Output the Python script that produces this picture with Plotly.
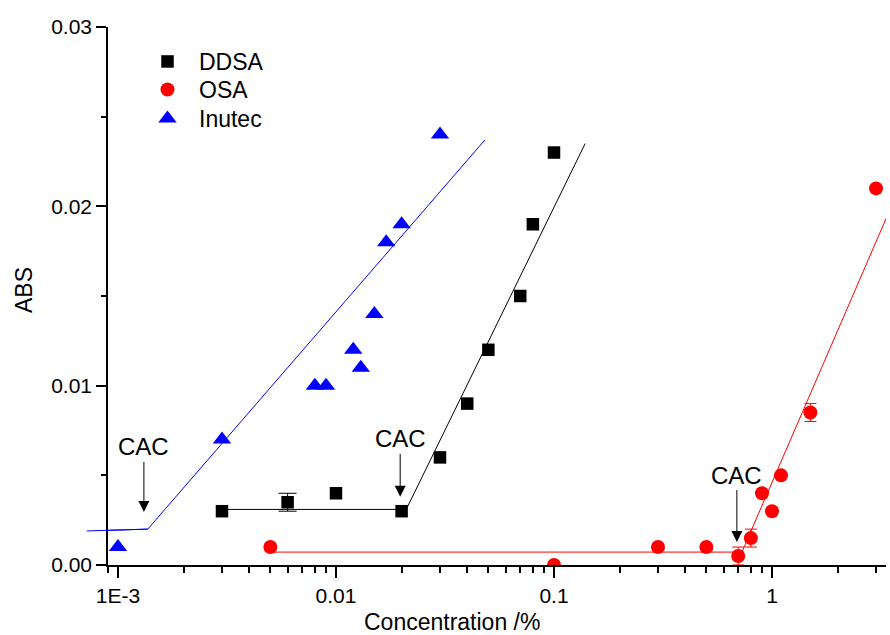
import math
import plotly.graph_objects as go

# ---- data ----
ddsa_x = [0.003, 0.006, 0.01, 0.02, 0.03, 0.04, 0.05, 0.07, 0.08, 0.1]
ddsa_y = [0.003, 0.0035, 0.004, 0.003, 0.006, 0.009, 0.012, 0.015, 0.019, 0.023]
ddsa_err = [0, 0.0005, 0, 0, 0, 0, 0, 0, 0, 0]

osa_x = [0.005, 0.1, 0.3, 0.5, 0.7, 0.8, 0.9, 1.0, 1.1, 1.5, 3.0]
osa_y = [0.001, 0.0, 0.001, 0.001, 0.0005, 0.0015, 0.004, 0.003, 0.005, 0.0085, 0.021]
osa_err = [0, 0, 0, 0, 0.0005, 0.0005, 0, 0, 0, 0.0005, 0]

inu_x = [0.001, 0.003, 0.008, 0.009, 0.012, 0.013, 0.015, 0.017, 0.02, 0.03]
inu_y = [0.001, 0.007, 0.010, 0.010, 0.012, 0.011, 0.014, 0.018, 0.019, 0.024]

# fitted lines (break points)
ddsa_fit_x = [0.003, 0.021, 0.139]
ddsa_fit_y = [0.0031, 0.0031, 0.0235]
osa_fit_x = [0.005, 0.728, 3.47]
osa_fit_y = [0.00072, 0.00072, 0.0198]
inu_fit_x = [0.00072, 0.00137, 0.0482]
inu_fit_y = [0.0019, 0.0020, 0.0237]

# CAC arrows (tip positions)
cac_x = [0.001315, 0.0197, 0.69]
cac_y = [0.00296, 0.0038, 0.00128]
cac_ay = [-65, -58, -67]

x_range = [0.0009, 3.334]
y_range = [0, 0.03]
x_tickvals = [0.001, 0.01, 0.1, 1]
x_ticktext = ["1E-3", "0.01", "0.1", "1"]
x_minor = [0.0009] + [m * 10 ** e for e in (-3, -2, -1) for m in range(2, 10)] + [2, 3]
y_tickvals = [0, 0.01, 0.02, 0.03]
y_ticktext = ["0.00", "0.01", "0.02", "0.03"]

FONT = "Liberation Sans, Arial, sans-serif"
W, H = 890, 635
L, R, T, B = 108, 4, 27, 70
pw, ph = W - L - R, H - T - B


def px_x(p):
    return (p - L) / pw


def px_y(p):
    return 1 - (p - T) / ph


def with_err(xs, ys, es):
    sel = [(x, y, e) for x, y, e in zip(xs, ys, es) if e > 0]
    return [s[0] for s in sel], [s[1] for s in sel], [s[2] for s in sel]


fig = go.Figure()

fig.add_trace(go.Scatter(x=ddsa_fit_x, y=ddsa_fit_y, mode="lines",
                         line=dict(color="black", width=1), showlegend=False, hoverinfo="skip"))
fig.add_trace(go.Scatter(x=osa_fit_x, y=osa_fit_y, mode="lines",
                         line=dict(color="#ff0000", width=1), showlegend=False, hoverinfo="skip"))
fig.add_trace(go.Scatter(x=inu_fit_x, y=inu_fit_y, mode="lines",
                         line=dict(color="#0000ff", width=1), showlegend=False, hoverinfo="skip"))

# error bars only where present
ex, ey, ee = with_err(ddsa_x, ddsa_y, ddsa_err)
fig.add_trace(go.Scatter(x=ex, y=ey, mode="markers", showlegend=False, hoverinfo="skip",
                         marker=dict(size=1, opacity=0),
                         error_y=dict(type="data", array=ee, color="black",
                                      thickness=1, width=9)))
ex, ey, ee = with_err(osa_x, osa_y, osa_err)
fig.add_trace(go.Scatter(x=ex, y=ey, mode="markers", showlegend=False, hoverinfo="skip",
                         marker=dict(size=1, opacity=0),
                         error_y=dict(type="data", array=ee, color="#ff0000",
                                      thickness=1, width=6)))

fig.add_trace(go.Scatter(x=ddsa_x, y=ddsa_y, mode="markers", name="DDSA", legend="legend",
                         marker=dict(symbol="square", size=12.5, color="black")))
fig.add_trace(go.Scatter(x=osa_x, y=osa_y, mode="markers", name="OSA", legend="legend2",
                         marker=dict(symbol="circle", size=14, color="#ff0000")))
fig.add_trace(go.Scatter(x=inu_x, y=inu_y, mode="markers", name="Inutec", legend="legend3",
                         marker=dict(symbol="triangle-up", size=16, color="#0000ff")))

# part of Inutec fit line extending left of the y axis (not clipped in x)
lx0, lx1 = math.log10(x_range[0]), math.log10(x_range[1])


def to_paper(v):
    return (math.log10(v) - lx0) / (lx1 - lx0)


fig.add_shape(type="line", xref="paper", yref="y",
              x0=to_paper(inu_fit_x[0]), y0=inu_fit_y[0],
              x1=to_paper(inu_fit_x[1]), y1=inu_fit_y[1],
              line=dict(color="#0000ff", width=1))

for cx, cy, ay in zip(cac_x, cac_y, cac_ay):
    fig.add_annotation(x=math.log10(cx), y=cy, xref="x", yref="y", text="CAC",
                       showarrow=True, ax=0, ay=ay, arrowhead=2, arrowsize=2.2,
                       arrowwidth=1, arrowcolor="black",
                       font=dict(family=FONT, size=24, color="black"))

# axis titles
fig.add_annotation(x=px_x(452), y=px_y(622), xref="paper", yref="paper",
                   xanchor="center", yanchor="middle", text="Concentration /%",
                   showarrow=False, font=dict(family=FONT, size=23, color="black"))
fig.add_annotation(x=px_x(24), y=px_y(290), xref="paper", yref="paper",
                   xanchor="center", yanchor="middle", text="ABS",
                   showarrow=False, textangle=-90,
                   font=dict(family=FONT, size=23, color="black"))

leg_common = dict(xanchor="left", yanchor="top", bgcolor="rgba(0,0,0,0)",
                  borderwidth=0, itemwidth=53,
                  font=dict(family=FONT, size=23, color="black"))

fig.update_layout(
    width=W, height=H,
    margin=dict(l=L, r=R, t=T, b=B),
    paper_bgcolor="white", plot_bgcolor="white",
    font=dict(family=FONT, size=21, color="black"),
    showlegend=True,
    legend=dict(x=px_x(136), y=px_y(40), **leg_common),
    legend2=dict(x=px_x(136), y=px_y(68), **leg_common),
    legend3=dict(x=px_x(136), y=px_y(97), **leg_common),
    xaxis=dict(type="log", range=[lx0, lx1], showgrid=False, zeroline=False,
               showline=True, linecolor="black", linewidth=1.5,
               ticks="outside", ticklen=11, tickwidth=1.5, tickcolor="black",
               tickvals=x_tickvals, ticktext=x_ticktext,
               minor=dict(ticks="outside", ticklen=6, tickwidth=1.5, tickcolor="black",
                          tickvals=x_minor, showgrid=False),
               tickfont=dict(family=FONT, size=21, color="black")),
    yaxis=dict(range=y_range, showgrid=False, zeroline=False,
               showline=True, linecolor="black", linewidth=1.5,
               ticks="outside", ticklen=10, tickwidth=1.5, tickcolor="black",
               tickvals=y_tickvals, ticktext=y_ticktext,
               minor=dict(ticks="outside", ticklen=5, tickwidth=1.5, tickcolor="black",
                          dtick=0.005, showgrid=False),
               tickfont=dict(family=FONT, size=21, color="black")),
)

fig.write_html("out.html")
